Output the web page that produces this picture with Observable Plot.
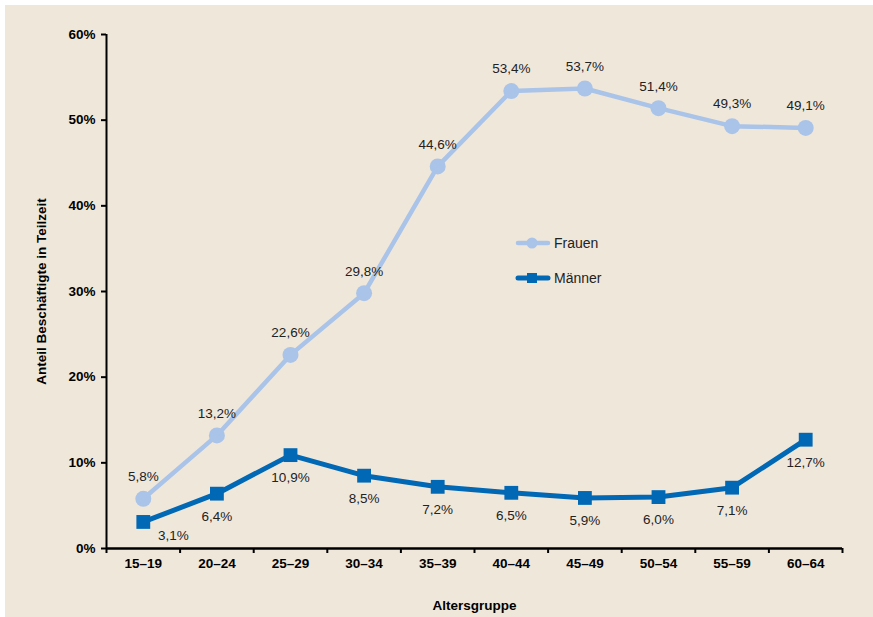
<!DOCTYPE html>
<html><head><meta charset="utf-8">
<script src="https://cdn.jsdelivr.net/npm/d3@7"></script>
<script src="https://cdn.jsdelivr.net/npm/@observablehq/plot@0.6"></script>
<style>
html,body{margin:0;padding:0;background:#fff;}
#wrap{position:absolute;left:5px;top:5px;width:868px;height:612px;background:#f0e7db;font-family:"Liberation Sans",Arial,sans-serif;}
#legend{position:absolute;left:510px;top:228px;font-size:14px;color:#222;}
.li{display:flex;align-items:center;height:20px;margin-bottom:15px;}
.li svg{margin-right:3px;}
</style></head>
<body><div id="wrap"><div id="chart"></div><div id="legend"></div></div>
<script>
const categories = ["15–19","20–24","25–29","30–34","35–39","40–44","45–49","50–54","55–59","60–64"];
const frauen = [5.8,13.2,22.6,29.8,44.6,53.4,53.7,51.4,49.3,49.1];
const maenner = [3.1,6.4,10.9,8.5,7.2,6.5,5.9,6.0,7.1,12.7];
const yTicks = [0,10,20,30,40,50,60];
const seriesNames = ["Frauen","Männer"];
const colors = ["#a9c4e8","#0068b4"];

const fmt = v => v.toFixed(1).replace(".", ",") + "%";
const idx = d3.range(categories.length);
const fData = idx.map(i => ({i, v: frauen[i]}));
const mData = idx.map(i => ({i, v: maenner[i]}));
const bounds = d3.range(categories.length + 1).map(i => i - 0.5);

const chart = Plot.plot({
  width: 868, height: 612,
  marginLeft: 101, marginRight: 31, marginTop: 29, marginBottom: 69,
  style: {background: "transparent", fontFamily: "Liberation Sans, Arial, sans-serif", fontSize: "13.5px", color: "#000"},
  x: {type: "linear", domain: [-0.5, categories.length - 0.5]},
  y: {type: "linear", domain: [0, 60]},
  marks: [
    Plot.axisX({ticks: bounds, tickSize: 5, tickFormat: () => "", strokeWidth: 2, label: null}),
    Plot.axisX({ticks: idx, tickSize: 0, tickPadding: 10, tickFormat: i => categories[i], fontWeight: "bold", fontSize: 13.5,
      label: "Altersgruppe", labelAnchor: "center", labelOffset: 61, labelArrow: "none"}),
    Plot.axisY({ticks: yTicks, tickSize: 5, tickPadding: 6, strokeWidth: 2, tickFormat: d => d + "%", fontWeight: "bold", fontSize: 13.5,
      label: "Anteil Beschäftigte in Teilzeit", labelAnchor: "center", labelOffset: 70, labelArrow: "none"}),
    Plot.ruleY([0], {stroke: "#000", strokeWidth: 2.5}),
    Plot.ruleX([-0.5], {stroke: "#000", strokeWidth: 2}),
    Plot.line(fData, {x: "i", y: "v", stroke: colors[0], strokeWidth: 4.5}),
    Plot.dot(fData, {x: "i", y: "v", r: 8, fill: colors[0], symbol: "circle"}),
    Plot.line(mData, {x: "i", y: "v", stroke: colors[1], strokeWidth: 5}),
    Plot.dot(mData, {x: "i", y: "v", r: 7.8, fill: colors[1], symbol: "square"}),
    Plot.text(fData, {x: "i", y: "v", text: d => fmt(d.v), dy: -22, fill: "#222", fontSize: 13.5}),
    Plot.text(mData.slice(1), {x: "i", y: "v", text: d => fmt(d.v), dy: 23, fill: "#222", fontSize: 13.5}),
    Plot.text(mData.slice(0, 1), {x: "i", y: "v", text: d => fmt(d.v), dx: 30, dy: 14, fill: "#222", fontSize: 13.5})
  ]
});
document.getElementById("chart").appendChild(chart);

const legend = document.getElementById("legend");
seriesNames.forEach((name, k) => {
  const row = document.createElement("div");
  row.className = "li";
  const mk = k === 0
    ? `<circle cx="17" cy="10" r="5.5" fill="${colors[0]}"/>`
    : `<rect x="12" y="5" width="10" height="10" fill="${colors[1]}"/>`;
  row.innerHTML = `<svg width="36" height="20"><line x1="3" x2="33" y1="10" y2="10" stroke="${colors[k]}" stroke-width="${k===0?4.5:5}" stroke-linecap="round"/>${mk}</svg><span>${name}</span>`;
  legend.appendChild(row);
});
</script></body></html>
